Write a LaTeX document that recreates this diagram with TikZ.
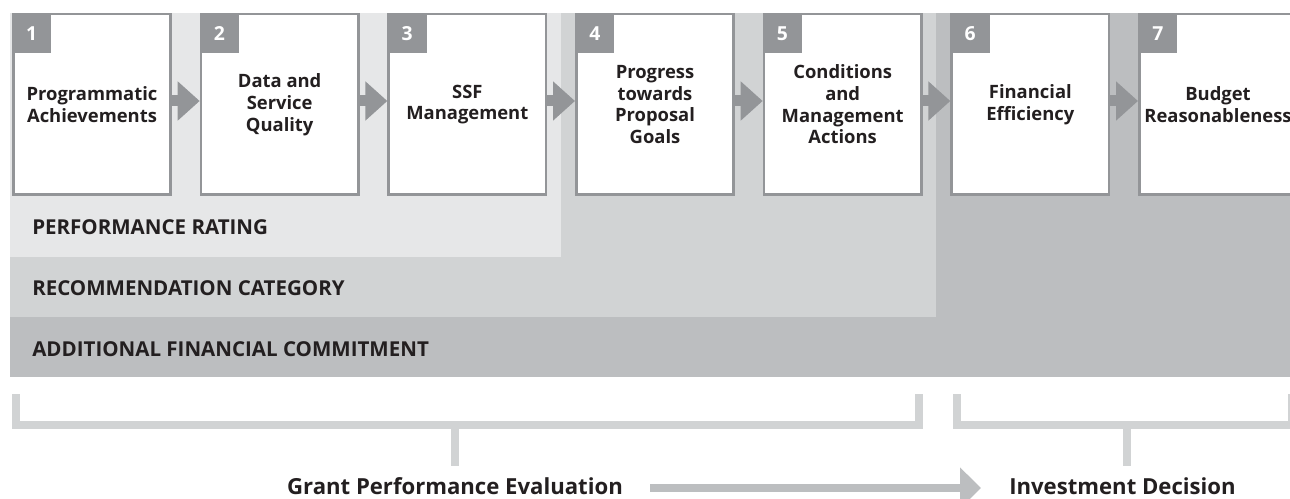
\documentclass[tikz,border=0pt]{standalone}
\usepackage{fontspec}
\setmainfont{Open Sans}
\usetikzlibrary{arrows.meta,calc}
\definecolor{bandA}{HTML}{E6E7E8}
\definecolor{bandB}{HTML}{D1D3D4}
\definecolor{bandC}{HTML}{BCBEC0}
\definecolor{dgray}{HTML}{939598}
\definecolor{ink}{HTML}{231F20}
\tikzset{
  stepbox/.style={draw=dgray, line width=1.9pt, fill=white, inner sep=0pt,
    minimum width=118.1pt, minimum height=135.4pt, align=center,
    text=ink, font=\bfseries\fontsize{13.8}{16.3}\selectfont},
  numtab/.style={fill=dgray, inner sep=0pt, minimum width=29.25pt, minimum height=30pt,
    text=white, font=\bfseries\fontsize{14.5}{16}\selectfont},
  flowarrow/.style={draw=dgray, line width=8.25pt, -{Triangle[length=16.5pt,width=28.5pt]}},
  bandlabel/.style={anchor=base west, inner sep=0pt, text=ink, font=\bfseries\fontsize{15.4}{18}\selectfont},
  bottomlabel/.style={anchor=base, inner sep=0pt, text=ink, font=\bfseries\fontsize{16.6}{19}\selectfont},
  bracket/.style={draw=bandB, line width=6pt, line cap=butt, line join=miter},
  bigarrow/.style={draw=bandC, line width=6pt, -{Triangle[length=15.75pt,width=30pt]}}
}
\begin{document}
\begin{tikzpicture}[x=0.75pt,y=-0.75pt]
\useasboundingbox (0,0) rectangle (1290,499);
\clip (0,0) rectangle (1290,499);
% bands
\fill[bandC] (10,13) rectangle (1300,377);
\fill[bandB] (10,13) rectangle (936,317);
\fill[bandA] (10,13) rectangle (561,257);
\node[bandlabel] (perf) at (32,235) {PERFORMANCE RATING};
\node[bandlabel] (reco) at (32,296) {RECOMMENDATION CATEGORY};
\node[bandlabel] (addi) at (32,356) {ADDITIONAL FINANCIAL COMMITMENT};
% boxes
\node[stepbox] (b1) at (92,104.5) {Programmatic\\Achievements};
\node[stepbox] (b2) at (279.67,104.5) {Data and\\Service\\Quality};
\node[stepbox] (b3) at (467.33,104.5) {SSF\\Management};
\node[stepbox] (b4) at (655,104.5) {Progress\\towards\\Proposal\\Goals};
\node[stepbox] (b5) at (842.67,104.5) {Conditions\\and\\Management\\Actions};
\node[stepbox] (b6) at (1030.33,104.5) {Financial\\Efficiency};
\node[stepbox] (b7) at (1218,104.5) {Budget\\Reasonableness};
\foreach \i in {1,...,7}{
  \node[numtab, anchor=north west] (t\i) at (b\i.north west) {\i};
}
\foreach \a/\b in {1/2,2/3,3/4,4/5,5/6,6/7}{
  \draw[flowarrow] ($(b\a.east)+(0,-3.5)$) -- ($(b\b.west)+(0,-3.5)$);
}
% brackets
\coordinate (k1a) at (16,394);
\coordinate (k1b) at (16,424.5);
\coordinate (k1m) at (455,424.5);
\coordinate (k1c) at (919,424.5);
\coordinate (k1d) at (919,394);
\coordinate (k1s) at (455,466);
\coordinate (k2a) at (957,394);
\coordinate (k2b) at (957,424.5);
\coordinate (k2m) at (1126.5,424.5);
\coordinate (k2c) at (1292,424.5);
\coordinate (k2d) at (1292,394);
\coordinate (k2s) at (1126.5,466);
\draw[bracket] (k1a) -- (k1b) -- (k1c) -- (k1d);
\draw[bracket] (k1m) -- (k1s);
\draw[bracket] (k2a) -- (k2b) -- (k2c) -- (k2d);
\draw[bracket] (k2m) -- (k2s);
% bottom labels
\node[bottomlabel] (gpe) at (455,494) {Grant Performance Evaluation};
\node[bottomlabel] (inv) at (1122.5,494) {Investment Decision};
\draw[bigarrow] ($(gpe.base east)+(27,-6)$) -- ($(inv.base west)+(-28,-6)$);
\end{tikzpicture}
\end{document}
